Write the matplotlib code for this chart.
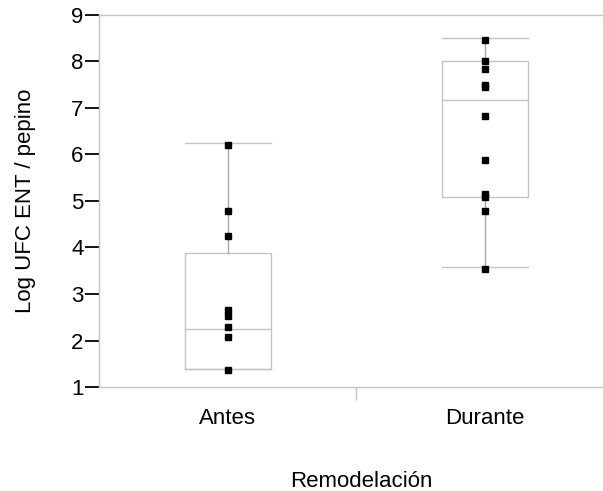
import matplotlib
matplotlib.use("Agg")
import matplotlib.pyplot as plt

plt.rcParams['font.family'] = ['Liberation Sans', 'DejaVu Sans']

grupos = ["Antes", "Durante"]

# puntos individuales (Log UFC)
antes = [6.20, 4.78, 4.24, 2.65, 2.53, 2.30, 2.07, 1.37]
durante = [8.46, 8.02, 7.84, 7.49, 7.45, 6.82, 5.88, 5.15, 5.08, 4.78, 3.54]

# estadisticos de las cajas: min, q1, mediana, q3, max
whislo = [1.39, 3.57]
q1 = [1.39, 5.09]
med = [2.25, 7.17]
q3 = [3.89, 8.00]
whishi = [6.24, 8.51]

stats = []
for i in range(2):
    stats.append({"label": grupos[i], "whislo": whislo[i], "q1": q1[i], "med": med[i],
                  "q3": q3[i], "whishi": whishi[i], "fliers": []})

fig = plt.figure(figsize=(6.03, 4.91), dpi=100)
ax = fig.add_axes([0.164, 0.2118, 0.836, 0.7577])

gris = "#c4c4c4"
ax.bxp(stats, positions=[0, 1], widths=0.335, showfliers=False,
       boxprops=dict(color=gris, linewidth=1),
       whiskerprops=dict(color="#a8a8a8", linewidth=1),
       capprops=dict(color=gris, linewidth=1),
       medianprops=dict(color=gris, linewidth=1),
       capwidths=0.335)

for i, vals in enumerate([antes, durante]):
    ax.plot([i] * len(vals), vals, 's', color='black', markersize=4.5, zorder=3)

ax.set_ylim(1, 9)
ax.set_xlim(-0.502, 1.46)
ax.set_yticks(range(1, 10))

fs = 16
ax.set_xticks([0, 1])
ax.set_xticklabels(grupos, fontsize=fs)
ax.set_xticks([0.5], minor=True)
ax.tick_params(axis='x', which='major', length=0, pad=15)
ax.tick_params(axis='x', which='minor', length=9, color=gris, width=1)
ax.tick_params(axis='y', length=10, width=1.3, color='black', labelsize=fs, pad=1)

for s in ["top", "bottom", "left"]:
    ax.spines[s].set_color(gris)
    ax.spines[s].set_linewidth(1)
ax.spines["right"].set_visible(False)

ax.set_ylabel("Log UFC ENT / pepino", fontsize=fs)
ax.yaxis.set_label_coords(-0.124, 0.5)
ax.set_xlabel("Remodelación", fontsize=fs)
ax.xaxis.set_label_coords(0.52, -0.225)

plt.savefig("out.png", dpi=100)
